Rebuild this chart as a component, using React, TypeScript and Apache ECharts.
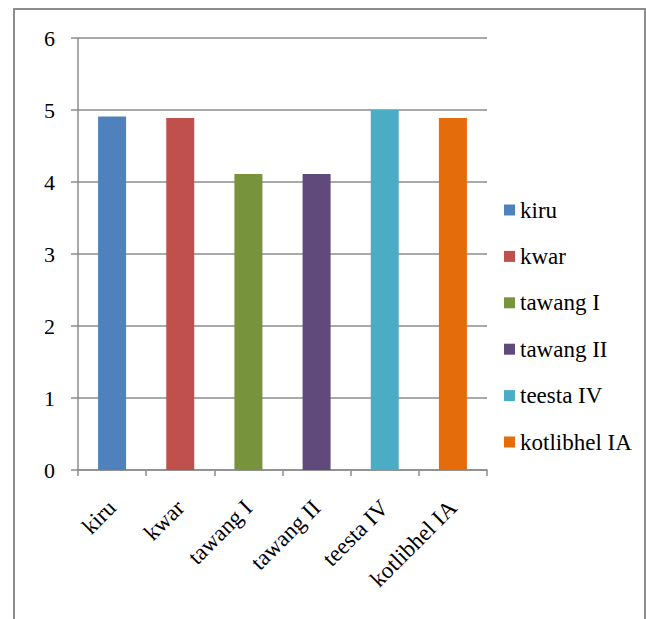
import React, { useEffect, useRef } from "react";
import * as echarts from "echarts";

const categories = ["kiru", "kwar", "tawang I", "tawang II", "teesta IV", "kotlibhel IA"];
const values = [4.91, 4.89, 4.11, 4.11, 5.0, 4.89];
const colors = ["#4F81BD", "#C0504D", "#77933C", "#604A7B", "#4BACC6", "#E46C0A"];
const yTicks = [0, 1, 2, 3, 4, 5, 6];

const FONT = "Liberation Serif";
const GRAY = "#8c8c8c";

export default function App() {
  const ref = useRef<HTMLDivElement>(null);
  useEffect(() => {
    if (!ref.current) return;
    const chart = echarts.init(ref.current, undefined, { renderer: "svg" });
    const series = categories.map((name, i) => ({
      name,
      type: "bar",
      stack: "all",
      barWidth: 28,
      itemStyle: { color: colors[i] },
      data: categories.map((_, j) => (j === i ? values[i] : "-")),
    }));
    chart.setOption({
      animation: false,
      textStyle: { fontFamily: FONT },
      graphic: [
        {
          type: "rect",
          shape: { x: 14, y: 9, width: 631, height: 640 },
          style: { fill: "none", stroke: GRAY, lineWidth: 2 },
          silent: true,
        },
      ],
      grid: { left: 78, top: 38, right: 159, bottom: 149, containLabel: false },
      legend: {
        orient: "vertical",
        left: 499,
        top: 193,
        itemWidth: 11,
        itemHeight: 11,
        itemGap: 22.4,
        icon: "rect",
        data: categories,
        textStyle: { fontFamily: FONT, fontSize: 23, color: "#000", lineHeight: 24 },
      },
      xAxis: {
        type: "category",
        data: categories,
        axisLine: { lineStyle: { color: GRAY, width: 1.5 } },
        axisTick: { show: true, length: 6, alignWithLabel: false, lineStyle: { color: GRAY, width: 1.5 } },
        axisLabel: {
          rotate: 45,
          margin: 34,
          interval: 0,
          fontFamily: FONT,
          fontSize: 23,
          color: "#000",
        },
      },
      yAxis: {
        type: "value",
        min: yTicks[0],
        max: yTicks[yTicks.length - 1],
        interval: 1,
        axisLine: { show: true, lineStyle: { color: GRAY, width: 1.5 } },
        axisTick: { show: true, length: 7, lineStyle: { color: GRAY, width: 1.5 } },
        splitLine: { show: true, lineStyle: { color: GRAY, width: 1.5 } },
        axisLabel: {
          margin: 23,
          fontFamily: FONT,
          fontSize: 22,
          color: "#000",
          formatter: (v: number) => String(v),
        },
      },
      series,
    });
    return () => chart.dispose();
  }, []);
  return (
    <div
      ref={ref}
      style={{ position: "fixed", left: 0, top: 0, width: 646, height: 619, background: "#fff" }}
    />
  );
}
